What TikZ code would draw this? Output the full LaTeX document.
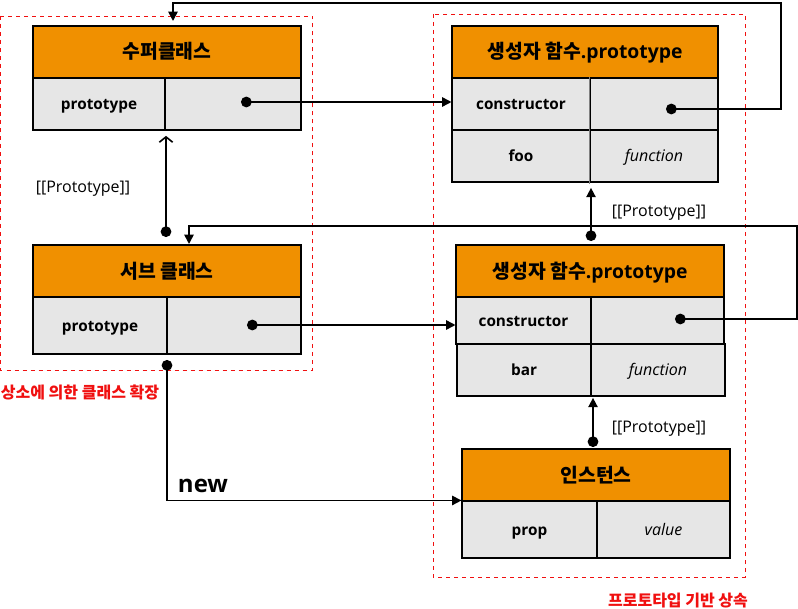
\documentclass[tikz,border=0pt]{standalone}
\usepackage{fontspec}
\setmainfont{Open Sans}
\newfontfamily\kr{Noto Sans CJK KR}
\usetikzlibrary{arrows.meta}
\definecolor{hdorange}{RGB}{240,144,0}
\definecolor{cellgray}{RGB}{230,230,230}
\definecolor{grpred}{RGB}{240,16,16}
\tikzset{
  clshead/.style={draw, line width=0.8pt, fill=hdorange, inner sep=0pt,
    text height=0.9em+2.5pt, text depth=0.1em,
    font=\kr\bfseries\fontsize{14.5}{17}\selectfont, minimum height=39pt},
  clskey/.style={draw, line width=0.8pt, fill=cellgray, inner sep=0pt,
    text height=0.55em+3pt, text depth=0pt,
    font=\bfseries\fontsize{11.5}{13}\selectfont},
  clsval/.style={draw, line width=0.8pt, fill=cellgray, inner sep=0pt,
    text height=0.55em+3pt, text depth=0pt,
    font=\itshape\fontsize{12}{14}\selectfont},
  grpframe/.style={draw=grpred, dashed, line width=0.7pt},
  grplabel/.style={text=grpred, font=\kr\bfseries\fontsize{12}{14}\selectfont},
  protolabel/.style={font=\fontsize{12}{14}\selectfont},
  ptrarr/.style={{Circle[length=8pt]}-{Triangle[length=7pt,width=7pt]}, line width=1.2pt},
}

\begin{document}
\begin{tikzpicture}[x=0.75pt, y=-0.75pt]
  \useasboundingbox (0,0) rectangle (798,609);
  % group frames
  \draw[grpframe] (0.5,16) rectangle (312,370);
  \draw[grpframe] (433,14) rectangle (745,577);
  \node[grplabel] (extLbl) at (80,392) {상소에 의한 클래스 확장};
  \node[grplabel] (inhLbl) at (678,601) {프로토타입 기반 상속};

  % super class
  \node[clshead, minimum width=201pt] (supHead) at (167,52) {수퍼클래스};
  \node[clskey, minimum width=99pt, minimum height=39pt] (supKey) at (99,104) {prototype};
  \node[clsval, minimum width=102pt, minimum height=39pt] (supVal) at (233,104) {};

  % constructor prototype (top)
  \node[clshead, minimum width=199.5pt] (topHead) at (585,52) {생성자 함수\normalfont\bfseries\fontsize{14.5}{17}\selectfont .prototype};
  \node[clskey, minimum width=103.5pt, minimum height=39pt] (topKey1) at (521,104) {constructor};
  \node[clsval, minimum width=96pt, minimum height=39pt] (topVal1) at (654,104) {};
  \node[clskey, minimum width=103.5pt, minimum height=39pt] (topKey2) at (521,156) {foo};
  \node[clsval, minimum width=96pt, minimum height=39pt] (topVal2) at (654,156) {function};
  \draw[gray, line width=1.4pt] (topVal1.north west) -- ([yshift=-1pt]topVal2.south west);

  % sub class
  \node[clshead, minimum width=201pt] (subHead) at (167,271) {서브 클래스};
  \node[clskey, minimum width=100.5pt, minimum height=42.75pt] (subKey) at (100,325.5) {prototype};
  \node[clsval, minimum width=100.5pt, minimum height=42.75pt] (subVal) at (234,325.5) {};

  % constructor prototype (middle)
  \node[clshead, minimum width=201pt] (midHead) at (590,271) {생성자 함수\normalfont\bfseries\fontsize{14.5}{17}\selectfont .prototype};
  \node[clskey, minimum width=101.25pt, minimum height=35.25pt] (midKey1) at (523.5,320.5) {constructor};
  \node[clsval, minimum width=99.75pt, minimum height=35.25pt] (midVal1) at (657.5,320.5) {};
  \node[clskey, minimum width=100.5pt, minimum height=39pt] (midKey2) at (524,370) {bar};
  \node[clsval, minimum width=100.5pt, minimum height=39pt] (midVal2) at (658,370) {function};

  % instance
  \node[clshead, minimum width=201pt] (instHead) at (596,475) {인스턴스};
  \node[clskey, minimum width=101.25pt, minimum height=42.75pt] (instKey) at (529.5,529.5) {prop};
  \node[clsval, minimum width=99.75pt, minimum height=42.75pt] (instVal) at (663.5,529.5) {value};

  % connector ends
  \coordinate (supDot) at (241,102);
  \coordinate (topDot) at (666,109);
  \coordinate (subDot) at (247,325);
  \coordinate (midDot) at (675,319);
  \coordinate (subTop) at (166,237);
  \coordinate (subBot) at (167,360);
  \coordinate (midTop) at (591,241);
  \coordinate (instTop) at (593,447);
  \coordinate (supIn) at (173,21);
  \coordinate (subIn) at (189,244);

  % edges
  \draw[ptrarr] (supDot) -- (supDot -| topKey1.west);
  \draw[ptrarr] (subDot) -- (subDot -| midKey1.west);
  \draw[ptrarr] (topDot) -- (781,109) -- (781,3) -- (173,3) -- (supIn);
  \draw[ptrarr] (midDot) -- (797,319) -- (797,226) -- (189,226) -- (subIn);
  \draw[{Circle[length=8pt]}-{Straight Barb[length=4pt,width=10pt]}, line width=1.2pt]
    (subTop) -- ([yshift=-4pt]supVal.south west -| subTop);
  \draw[ptrarr] (midTop) -- ([yshift=-4pt]topVal2.south west -| midTop);
  \draw[ptrarr] (instTop) -- ([yshift=-1pt]midVal2.south west -| instTop);
  \draw[ptrarr] (subBot) |- (instKey.north west);

  % labels
  \node[protolabel] (protoLblA) at (83,189) {[[Prototype]]};
  \node[protolabel] (protoLblB) at (659,213) {[[Prototype]]};
  \node[protolabel] (protoLblC) at (659,429) {[[Prototype]]};
  \node[font=\bfseries\fontsize{18}{20}\selectfont] (newLbl) at (203,486) {new};
\end{tikzpicture}
\end{document}
